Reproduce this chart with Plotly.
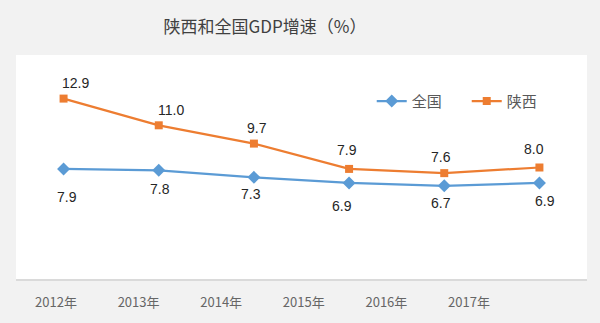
import plotly.graph_objects as go

years = ["2012年", "2013年", "2014年", "2015年", "2016年", "2017年"]
national = [7.9, 7.8, 7.3, 6.9, 6.7, 6.9]
shaanxi = [12.9, 11.0, 9.7, 7.9, 7.6, 8.0]
labels_national = ["7.9", "7.8", "7.3", "6.9", "6.7", "6.9"]
labels_shaanxi = ["12.9", "11.0", "9.7", "7.9", "7.6", "8.0"]

# label offsets (style)
sx_shift_x = [12, 12, 3, -2, -3, -5]
sx_shift_y = [16, 15, 16, 19, 16, 19]
nat_shift_x = [3, 1, -3, -7, -3, 6]
nat_shift_y = [-28, -19, -17, -23, -17, -18]

BLUE = "#5B9BD5"
ORANGE = "#ED7D31"

fig = go.Figure()
fig.add_trace(go.Scatter(
    x=years, y=national, name="全国", mode="lines+markers",
    line=dict(color=BLUE, width=2.25),
    marker=dict(symbol="diamond", size=10, color=BLUE),
))
fig.add_trace(go.Scatter(
    x=years, y=shaanxi, name="陕西", mode="lines+markers",
    line=dict(color=ORANGE, width=2.25),
    marker=dict(symbol="square", size=8, color=ORANGE),
))
# invisible trace for the displaced category axis
fig.add_trace(go.Scatter(
    x=years, y=[None] * len(years), xaxis="x2", yaxis="y",
    mode="lines", showlegend=False, hoverinfo="skip",
))

annotations = []
for i, yr in enumerate(years):
    annotations.append(dict(
        x=yr, y=shaanxi[i], xref="x", yref="y", text=labels_shaanxi[i],
        showarrow=False, xshift=sx_shift_x[i], yshift=sx_shift_y[i],
        font=dict(family="Liberation Sans", size=14, color="#262626"),
    ))
    annotations.append(dict(
        x=yr, y=national[i], xref="x", yref="y", text=labels_national[i],
        showarrow=False, xshift=nat_shift_x[i], yshift=nat_shift_y[i],
        font=dict(family="Liberation Sans", size=14, color="#262626"),
    ))

fig.update_layout(
    width=600, height=323,
    margin=dict(l=16, r=13, t=55, b=40),
    paper_bgcolor="#F2F2F2",
    plot_bgcolor="rgba(0,0,0,0)",
    title=dict(
        text="陕西和全国GDP增速（%）",
        x=265 / 600, xanchor="center", xref="container",
        y=1 - 27 / 323, yanchor="middle", yref="container",
        font=dict(family="Noto Sans CJK SC", size=17, color="#404040"),
    ),
    xaxis=dict(
        type="category", categoryorder="array", categoryarray=years,
        range=[-0.5, 5.5], showgrid=False, zeroline=False,
        showline=False, showticklabels=False, fixedrange=True,
    ),
    xaxis2=dict(
        type="category", categoryorder="array", categoryarray=years,
        domain=[0, 0.8657], range=[-0.484, 5.5], anchor="y",
        showgrid=False, zeroline=False, showline=False,
        ticks="outside", ticklen=10, tickcolor="rgba(0,0,0,0)",
        tickfont=dict(family="Noto Sans CJK SC", size=13, color="#666666"),
    ),
    yaxis=dict(
        range=[0, 16], showgrid=False, zeroline=False, showline=False,
        showticklabels=False, fixedrange=True,
    ),
    legend=dict(
        orientation="h", x=0.623, xanchor="left", y=0.794, yanchor="middle",
        bgcolor="rgba(0,0,0,0)", entrywidth=50, entrywidthmode="pixels",
        font=dict(family="Noto Sans CJK SC", size=15, color="#595959"),
    ),
    shapes=[
        dict(
            type="rect", xref="paper", yref="paper", x0=0, x1=1, y0=0, y1=1,
            fillcolor="#FFFFFF", line=dict(width=0), layer="below",
        ),
        dict(
            type="line", xref="paper", yref="paper", x0=0, x1=1, y0=0, y1=0,
            line=dict(color="#DADADA", width=2), layer="below",
        ),
    ],
    annotations=annotations,
    showlegend=True,
)

fig.write_html("out.html")
